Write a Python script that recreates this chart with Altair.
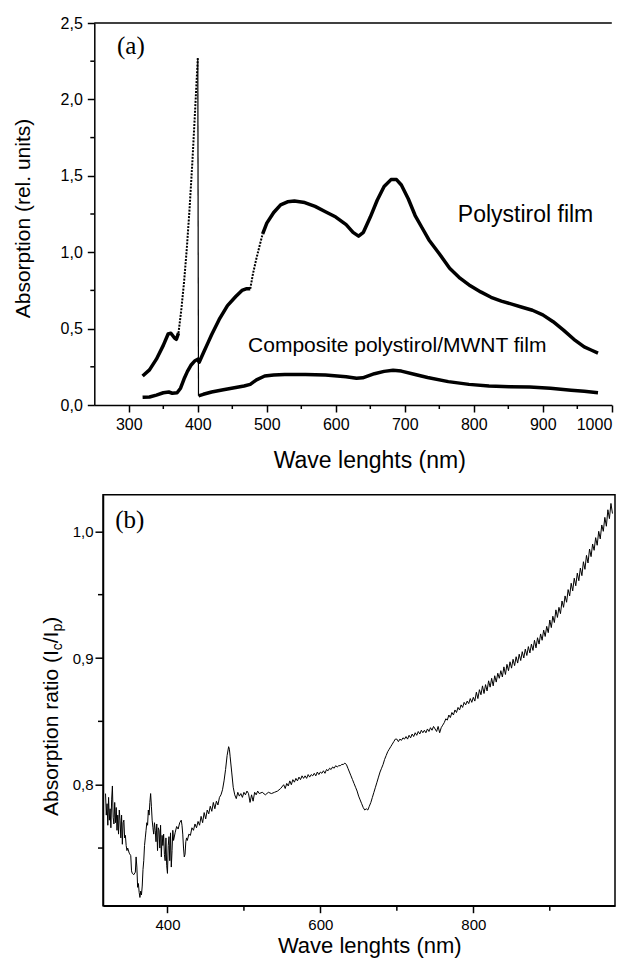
import altair as alt
import pandas as pd

SANS = "Liberation Sans"
SERIF = "Liberation Serif"

# ---------------- panel (a): absorption spectra ----------------
# Composite polystirol/MWNT film (segments: solid, dotted rise, thin drop, solid)
comp_wl_1 = [320, 330, 340, 350, 357, 361, 366, 369, 372]
comp_val_1 = [0.19, 0.23, 0.30, 0.39, 0.465, 0.47, 0.44, 0.43, 0.47]
comp_wl_2 = [372, 376, 380, 384, 388, 392, 396, 400]
comp_val_2 = [0.47, 0.62, 0.80, 1.02, 1.28, 1.58, 1.92, 2.27]
comp_wl_3 = [400, 401]
comp_val_3 = [2.27, 0.06]
comp_wl_4 = [401, 408, 420, 437, 455, 467, 476, 485, 497, 510, 526, 556, 585, 615,
             630, 639, 656, 670, 683, 695, 715, 733, 763, 793, 822, 852, 881, 911,
             941, 960, 980]
comp_val_4 = [0.06, 0.07, 0.085, 0.10, 0.115, 0.124, 0.135, 0.165, 0.19, 0.197, 0.20,
              0.20, 0.196, 0.185, 0.175, 0.178, 0.205, 0.22, 0.227, 0.222, 0.20, 0.18,
              0.153, 0.135, 0.124, 0.12, 0.118, 0.11, 0.097, 0.09, 0.08]

# Polystirol film (segments: solid, dotted jump, solid)
poly_wl_1 = [320, 330, 340, 350, 358, 363, 370, 375, 380, 385, 390, 396, 400, 402,
             408, 415, 420, 431, 443, 455, 464, 470, 476]
poly_val_1 = [0.05, 0.052, 0.065, 0.08, 0.085, 0.077, 0.08, 0.11, 0.17, 0.22, 0.26,
              0.29, 0.30, 0.28, 0.34, 0.41, 0.46, 0.56, 0.65, 0.71, 0.75, 0.76, 0.76]
poly_wl_2 = [476, 480, 485, 490, 494]
poly_val_2 = [0.76, 0.86, 0.96, 1.05, 1.12]
poly_wl_3 = [494, 500, 510, 520, 530, 540, 555, 570, 585, 600, 615, 625, 633, 640,
             650, 660, 670, 680, 688, 695, 705, 715, 725, 735, 750, 765, 780, 795,
             810, 825, 840, 855, 870, 885, 900, 915, 930, 945, 960, 970, 980]
poly_val_3 = [1.12, 1.19, 1.26, 1.31, 1.33, 1.335, 1.325, 1.30, 1.265, 1.23, 1.18,
              1.13, 1.105, 1.13, 1.23, 1.34, 1.43, 1.475, 1.475, 1.44, 1.35, 1.24,
              1.16, 1.08, 0.99, 0.895, 0.83, 0.78, 0.74, 0.705, 0.68, 0.66, 0.64,
              0.62, 0.59, 0.545, 0.49, 0.43, 0.38, 0.36, 0.34]

a_xticks = [300, 400, 500, 600, 700, 800, 900, 1000]
a_xminor = [350, 450, 550, 650, 750, 850, 950]
a_yticks = [0.0, 0.5, 1.0, 1.5, 2.0, 2.5]
a_yminor = [0.25, 0.75, 1.25, 1.75, 2.25]

a_label_text = ["Polystirol film", "Composite polystirol/MWNT film"]
a_label_size = [23, 21]
a_label_wl = [875, 689]
a_label_val = [1.243, 0.389]
a_tag_wl = [303]
a_tag_val = [2.35]

# ---------------- panel (b): absorption ratio ----------------
b_wl = [319, 320, 321, 322, 323, 324, 325, 326, 327, 328, 329, 330, 331, 332, 333, 334,
        335, 336, 337, 338, 339, 340, 341, 342, 343, 344, 345, 346, 347, 348, 350, 352,
        353, 354, 356, 358, 359, 360, 361, 362, 363, 364, 365, 366, 367, 368, 369, 370,
        371, 372, 373, 374, 375, 376, 377, 378, 379, 380, 381, 382, 383, 384, 385, 386,
        387, 388, 389, 390, 391, 392, 393, 394, 395, 396, 397, 398, 399, 400, 401, 402,
        403, 404, 405, 406, 407, 408, 410, 412, 414, 416, 418, 419, 420, 421, 422, 423,
        424, 425, 426, 428, 430, 432, 434, 436, 438, 440, 442, 444, 446, 448, 450, 452,
        454, 456, 458, 460, 462, 464, 466, 468, 470, 472, 474, 476, 478, 480, 481, 482,
        484, 486, 488, 490, 492, 494, 496, 498, 500, 502, 504, 506, 508, 510, 512, 514,
        516, 518, 520, 524, 528, 532, 536, 540, 544, 548, 552, 554, 556, 558, 560, 562,
        564, 566, 568, 570, 572, 574, 576, 578, 580, 582, 584, 586, 588, 590, 592, 594,
        596, 598, 600, 602, 604, 606, 608, 610, 612, 614, 616, 618, 620, 622, 624, 626,
        628, 630, 632, 634, 636, 638, 640, 642, 644, 646, 648, 650, 652, 654, 656, 658,
        660, 662, 664, 666, 668, 670, 672, 674, 676, 678, 680, 682, 684, 686, 688, 690,
        692, 694, 696, 698, 700, 702, 704, 706, 708, 710, 712, 714, 716, 718, 720, 722,
        724, 726, 728, 730, 732, 734, 736, 738, 740, 742, 744, 746, 748, 750, 752, 754,
        756, 758, 760, 762, 764, 766, 768, 770, 772, 774, 776, 778, 780, 782, 784, 786,
        788, 790, 792, 794, 796, 798, 800, 802, 804, 806, 808, 810, 812, 814, 816, 818,
        820, 822, 824, 826, 828, 830, 832, 834, 836, 838, 840, 842, 844, 846, 848, 850,
        852, 854, 856, 858, 860, 862, 864, 866, 868, 870, 872, 874, 876, 878, 880, 882,
        884, 886, 888, 890, 892, 894, 896, 898, 900, 902, 904, 906, 908, 910, 912, 914,
        916, 918, 920, 922, 924, 926, 928, 930, 932, 934, 936, 938, 940, 942, 944, 946,
        948, 950, 952, 954, 956, 958, 960, 962, 964, 966, 968, 970, 972, 974, 976, 978,
        980, 982]
b_ratio = [0.793, 0.776, 0.785, 0.768, 0.790, 0.772, 0.781, 0.766, 0.788, 0.799, 0.774,
           0.769, 0.786, 0.770, 0.782, 0.764, 0.776, 0.761, 0.780, 0.772, 0.758, 0.776,
           0.753, 0.770, 0.772, 0.758, 0.760, 0.752, 0.748, 0.750, 0.746, 0.744, 0.732,
           0.730, 0.729, 0.731, 0.743, 0.735, 0.719, 0.722, 0.715, 0.711, 0.716, 0.713,
           0.720, 0.733, 0.740, 0.752, 0.758, 0.764, 0.770, 0.768, 0.780, 0.776, 0.786,
           0.793, 0.783, 0.772, 0.766, 0.761, 0.770, 0.764, 0.755, 0.769, 0.748, 0.766,
           0.764, 0.750, 0.768, 0.743, 0.760, 0.752, 0.761, 0.745, 0.740, 0.758, 0.736,
           0.730, 0.752, 0.759, 0.740, 0.762, 0.735, 0.748, 0.764, 0.756, 0.762, 0.767,
           0.765, 0.770, 0.772, 0.768, 0.761, 0.750, 0.743, 0.745, 0.755, 0.758, 0.756,
           0.761, 0.760, 0.766, 0.764, 0.769, 0.766, 0.771, 0.768, 0.775, 0.770, 0.778,
           0.773, 0.780, 0.777, 0.783, 0.779, 0.786, 0.781, 0.787, 0.784, 0.790, 0.792,
           0.796, 0.803, 0.812, 0.823, 0.830, 0.828, 0.822, 0.810, 0.798, 0.792, 0.789,
           0.794, 0.791, 0.793, 0.790, 0.794, 0.792, 0.795, 0.793, 0.786, 0.792, 0.787,
           0.794, 0.792, 0.795, 0.793, 0.794, 0.792, 0.794, 0.793, 0.794, 0.795, 0.797,
           0.800, 0.797, 0.801, 0.799, 0.803, 0.800, 0.804, 0.802, 0.805, 0.803, 0.806,
           0.804, 0.807, 0.805, 0.807, 0.805, 0.808, 0.806, 0.808, 0.807, 0.809, 0.807,
           0.810, 0.808, 0.810, 0.809, 0.811, 0.809, 0.812, 0.811, 0.813, 0.812, 0.814,
           0.813, 0.815, 0.814, 0.815, 0.815, 0.816, 0.816, 0.817, 0.816, 0.813, 0.810,
           0.807, 0.804, 0.801, 0.798, 0.795, 0.791, 0.788, 0.785, 0.782, 0.780, 0.781,
           0.780, 0.783, 0.786, 0.790, 0.794, 0.798, 0.802, 0.806, 0.810, 0.813, 0.816,
           0.820, 0.823, 0.826, 0.828, 0.830, 0.832, 0.834, 0.836, 0.836, 0.834, 0.836,
           0.835, 0.837, 0.836, 0.838, 0.836, 0.839, 0.837, 0.840, 0.838, 0.841, 0.839,
           0.842, 0.840, 0.843, 0.841, 0.843, 0.841, 0.844, 0.842, 0.845, 0.843, 0.846,
           0.844, 0.842, 0.846, 0.841, 0.845, 0.847, 0.849, 0.852, 0.851, 0.855, 0.853,
           0.857, 0.855, 0.859, 0.857, 0.861, 0.859, 0.863, 0.861, 0.865, 0.863, 0.866,
           0.864, 0.868, 0.865, 0.869, 0.866, 0.873, 0.868, 0.875, 0.871, 0.878, 0.872,
           0.879, 0.874, 0.882, 0.877, 0.884, 0.878, 0.886, 0.881, 0.888, 0.884, 0.890,
           0.885, 0.893, 0.887, 0.895, 0.890, 0.897, 0.892, 0.899, 0.894, 0.901, 0.896,
           0.903, 0.898, 0.905, 0.900, 0.907, 0.902, 0.909, 0.904, 0.911, 0.906, 0.914,
           0.908, 0.916, 0.911, 0.919, 0.914, 0.922, 0.917, 0.925, 0.920, 0.930, 0.924,
           0.933, 0.928, 0.938, 0.932, 0.940, 0.935, 0.945, 0.940, 0.949, 0.944, 0.954,
           0.949, 0.959, 0.953, 0.963, 0.957, 0.967, 0.961, 0.971, 0.965, 0.976, 0.970,
           0.981, 0.975, 0.986, 0.980, 0.990, 0.985, 0.995, 0.989, 1.000, 0.994, 1.005,
           1.000, 1.011, 1.004, 1.017, 1.010, 1.022, 1.014]

b_xticks = [400, 600, 800]
b_xminor = [500, 700, 900]
b_yticks = [0.8, 0.9, 1.0]
b_yminor = [0.75, 0.85, 0.95]
b_tag_wl = [350.7]
b_tag_ratio = [1.009]

# ---------------- layout constants ----------------
SHIFT = 8.7                      # panel (a) axis sits left of panel (b) axis
A_XMIN, A_XMAX = 250, 1000
A_W = -SHIFT + (A_XMAX - A_XMIN) * 0.69   # right end of panel (a) x range
A_H = 382
B_W, B_H = 512, 411
COMMA = "replace(format(datum.value, '.1f'), '.', ',')"


def seg_frame(pieces):
    rows = []
    for seg, (wls, vals) in enumerate(pieces):
        for i, (w, v) in enumerate(zip(wls, vals)):
            rows.append({"wl": w, "val": v, "seg": seg, "idx": i})
    return pd.DataFrame(rows)


thick_df = seg_frame([(comp_wl_1, comp_val_1), (comp_wl_4, comp_val_4),
                      (poly_wl_1, poly_val_1), (poly_wl_3, poly_val_3)])
dotted_df = seg_frame([(comp_wl_2, comp_val_2), (poly_wl_2, poly_val_2)])
thin_df = seg_frame([(comp_wl_3, comp_val_3)])

xa = alt.X("wl:Q", scale=alt.Scale(domain=[A_XMIN, A_XMAX], range=[-SHIFT, A_W], nice=False, zero=False),
           axis=alt.Axis(values=a_xticks, format="d", title="Wave lenghts (nm)", tickSize=7,
                         labelFontSize=16, labelPadding=4, labelFlush=True, titleFontSize=23,
                         titleX=266.3, titleY=55, titleBaseline="middle"))
ya = alt.Y("val:Q", scale=alt.Scale(domain=[0, 2.5], nice=False, zero=False),
           axis=alt.Axis(values=a_yticks, labelExpr=COMMA, title="Absorption (rel. units)",
                         offset=SHIFT, tickSize=7, labelFontSize=16, labelPadding=5,
                         titleFontSize=21, titleX=-71, titleY=195, titleAngle=270,
                         titleBaseline="middle", titleAlign="center"))

one = alt.Data(values=[{"k": 0}])

a_thick = alt.Chart(thick_df).mark_line(color="black", strokeWidth=3.5, strokeJoin="round").encode(
    x=xa, y=ya, detail="seg:N", order="idx:Q")
a_dotted = alt.Chart(dotted_df).mark_line(color="black", strokeWidth=2, strokeDash=[2, 1.3]).encode(
    x=xa, y=ya, detail="seg:N", order="idx:Q")
a_thin = alt.Chart(thin_df).mark_line(color="black", strokeWidth=1.2).encode(
    x=xa, y=ya, detail="seg:N", order="idx:Q")
a_minx = alt.Chart(pd.DataFrame({"wl": a_xminor})).mark_rule(color="black", strokeWidth=1.5).encode(
    x=xa, y=alt.value(A_H), y2=alt.value(A_H + 4))
a_miny = alt.Chart(pd.DataFrame({"val": a_yminor})).mark_rule(color="black", strokeWidth=1.5).encode(
    y=ya, x=alt.value(-SHIFT), x2=alt.value(-SHIFT - 4))
a_top = alt.Chart(one).mark_rule(color="black", strokeWidth=1.5).encode(
    x=alt.value(-SHIFT), x2=alt.value(A_W), y=alt.value(0))
a_labels = alt.Chart(pd.DataFrame({"wl": a_label_wl, "val": a_label_val, "t": a_label_text,
                                   "s": a_label_size})).mark_text(
    font=SANS, color="black", align="center", baseline="middle").encode(
    x=xa, y=ya, text="t:N", size=alt.Size("s:Q", scale=None, legend=None))
a_tag = alt.Chart(pd.DataFrame({"wl": a_tag_wl, "val": a_tag_val, "t": ["(a)"]})).mark_text(
    font=SERIF, fontSize=25, color="black", align="center", baseline="middle").encode(
    x=xa, y=ya, text="t:N")
a_sp1 = alt.Chart(one).mark_rule(opacity=0).encode(x=alt.value(-93.7), x2=alt.value(-92.7), y=alt.value(-14))
a_sp2 = alt.Chart(one).mark_rule(opacity=0).encode(x=alt.value(0), x2=alt.value(1), y=alt.value(458))

top = alt.layer(a_thick, a_dotted, a_thin, a_minx, a_miny, a_top, a_labels, a_tag, a_sp1, a_sp2).properties(
    width=A_W, height=A_H, view=alt.ViewBackground(stroke="transparent"))

# ---------------- panel (b) ----------------
b_df = pd.DataFrame({"wl": b_wl, "ratio": b_ratio})
xb = alt.X("wl:Q", scale=alt.Scale(domain=[315.7, 985.3], nice=False, zero=False),
           axis=alt.Axis(values=b_xticks, title="Wave lenghts (nm)", tickSize=7,
                         labelFontSize=15, labelPadding=5, titleFontSize=22,
                         titleX=266.3, titleY=40, titleBaseline="middle"))
yb = alt.Y("ratio:Q", scale=alt.Scale(domain=[0.7045, 1.0289], nice=False, zero=False),
           axis=alt.Axis(values=b_yticks, labelExpr=COMMA, title=None, tickSize=8,
                         labelFontSize=15, labelPadding=2))

b_line = alt.Chart(b_df).mark_line(color="black", strokeWidth=1).encode(x=xb, y=yb, order="wl:Q")
b_minx = alt.Chart(pd.DataFrame({"wl": b_xminor})).mark_rule(color="black", strokeWidth=1.5).encode(
    x=xb, y=alt.value(B_H), y2=alt.value(B_H + 5))
b_miny = alt.Chart(pd.DataFrame({"ratio": b_yminor})).mark_rule(color="black", strokeWidth=1.5).encode(
    y=yb, x=alt.value(0), x2=alt.value(-5))
b_tag = alt.Chart(pd.DataFrame({"wl": b_tag_wl, "ratio": b_tag_ratio, "t": ["(b)"]})).mark_text(
    font=SERIF, fontSize=25, color="black", align="center", baseline="middle").encode(
    x=xb, y=yb, text="t:N")

# rotated y title with subscripts, built from pieces along the text direction
TX, TY = -44.7, 321.3
title_pieces = [("Absorption ratio (I", 21, 0, 0), ("c", 14, 165.7, 4), ("/I", 21, 172.7, 0),
                ("p", 14, 184.4, 4), (")", 21, 192.2, 0)]
b_title_layers = []
for txt, fs, ddx, ddy in title_pieces:
    b_title_layers.append(
        alt.Chart(pd.DataFrame({"t": [txt]})).mark_text(
            font=SANS, fontSize=fs, color="black", angle=270, align="left",
            baseline="alphabetic", dx=ddx, dy=ddy).encode(
            x=alt.value(TX), y=alt.value(TY), text="t:N"))

b_sp1 = alt.Chart(one).mark_rule(opacity=0).encode(x=alt.value(-93.7), x2=alt.value(-92.7), y=alt.value(-5))

bottom = alt.layer(b_line, b_minx, b_miny, b_tag, *b_title_layers, b_sp1).properties(
    width=B_W, height=B_H, view=alt.ViewBackground(stroke="black", strokeWidth=1.5))

chart = alt.vconcat(top, bottom, spacing=6.7).properties(
    padding=0
).configure_axis(
    grid=False, domainColor="black", domainWidth=1.5, tickColor="black", tickWidth=1.5,
    labelColor="black", titleColor="black", labelFont=SANS, titleFont=SANS,
    titleFontWeight="normal"
).configure_text(font=SANS)

chart.save("out.html", embed_options={"renderer": "svg", "actions": False})
